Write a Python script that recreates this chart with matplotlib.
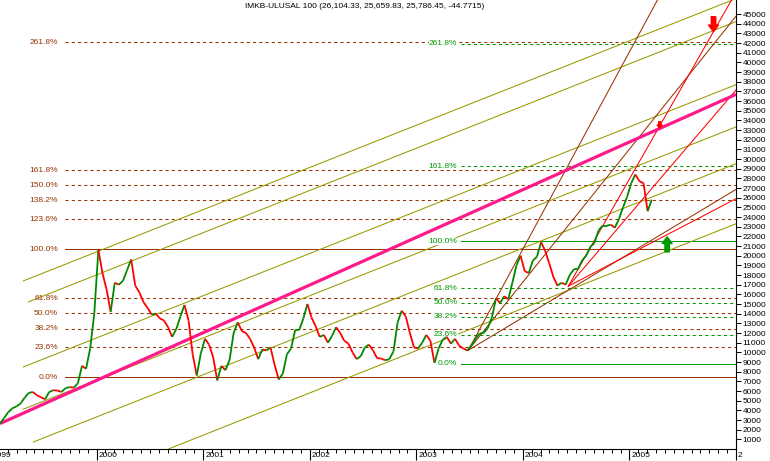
import numpy as np
import matplotlib
matplotlib.use("Agg")
import matplotlib.pyplot as plt
from matplotlib.collections import LineCollection
from matplotlib.transforms import blended_transform_factory, offset_copy

plt.rcParams['font.family'] = ['Liberation Sans Narrow', 'Liberation Sans', 'DejaVu Sans']

# ---------------- data ----------------
TITLE = "IMKB-ULUSAL 100 (26,104.33, 25,659.83, 25,786.45, -44.7715)"
START_YEAR = 1999.094          # date of first bar (fractional year)
PERIODS_PER_YEAR = 26          # two-week bars

closes = [
    2630, 3200, 3800, 4200, 4400, 4700, 5300, 5800, 5900, 5560,
    5350, 5150, 5900, 6080, 6050, 5900, 6300, 6400, 6350, 6800,
    8600, 8300, 10400, 14000, 20600, 18200, 16500, 14200, 17200, 17000,
    17400, 18500, 19600, 16900, 16200, 15200, 14600, 13900, 14000, 13500,
    13300, 12600, 11600, 12400, 13700, 14900, 13300, 9800, 7600, 9900,
    11400, 10800, 9500, 7100, 8600, 8150, 9200, 12000, 13100, 12200,
    12000, 11400, 10500, 9300, 10300, 10200, 10500, 8700, 7200, 7800,
    9800, 10400, 12300, 12300, 13500, 15000, 13600, 12700, 11600, 11800,
    11000, 11700, 12600, 12000, 11200, 10900, 10000, 9300, 9600, 10500,
    10800, 10200, 9400, 9360, 9180, 9300, 10100, 13100, 14300, 13700,
    12000, 10500, 10400, 11000, 11800, 11200, 8900, 10400, 11300, 11600,
    10900, 11400, 10700, 10400, 10200, 10700, 11400, 11950, 12000, 12500,
    13600, 15600, 15100, 15800, 15500, 17200, 19000, 20000, 18400, 18200,
    19500, 19900, 21400, 20500, 19200, 17800, 16900, 17200, 17000, 18000,
    18600, 18600, 19500, 20000, 20900, 21300, 22600, 23100, 23100, 23200,
    22900, 23800, 25000, 26100, 27500, 28400, 27700, 27500, 24600, 25786,
]

# Fibonacci retracement set 1 (2000 peak / 2001 low)
fib1_levels = [0.0, 23.6, 38.2, 50.0, 61.8, 100.0, 123.6, 138.2, 150.0, 161.8, 261.8]
fib1_low, fib1_high = 7400, 20650
fib1_start = 1999.704
fib1_label_x = 1999.639

# Fibonacci retracement set 2 (2003 low / 2004 peak)
fib2_levels = [0.0, 23.6, 38.2, 50.0, 61.8, 100.0, 161.8, 261.8]
fib2_low, fib2_high = 8840, 21470
fib2_start = 2003.423
fib2_label_x = 2003.385

# main support trendline (pink)
main_trend = ((1999.094, 2630), (2006.0, 36690))

# parallel channel lines (olive)
channel_lines = [
    ((1999.313, 17391), (2006.005, 46615)),
    ((1999.360, 15217), (2006.005, 44234)),
    ((1999.313, 8489), (2006.005, 37713)),
    ((1999.313, 4120), (2006.005, 33344)),
    ((1999.407, 725), (2006.005, 29535)),
    ((2000.674, 0), (2006.005, 23323)),
]

# fan from 2003 low (brown) and from 2004 low (red)
fan1_origin = (2003.488, 10217)
fan1_ends = [(2005.263, 46450), (2006.024, 45104), (2006.005, 26884)]
fan2_origin = (2004.427, 16843)
fan2_ends = [(2005.958, 46450), (2006.011, 37278), (2006.011, 25953)]

# arrows (tail -> tip)
arrows = [
    ((2005.354, 20393), (2005.354, 21946), '#009900', 8),
    ((2005.789, 44721), (2005.789, 43168), '#ff0000', 8),
    ((2005.284, 33851), (2005.284, 33168), '#ff0000', 4),
]

years = [1999, 2000, 2001, 2002, 2003, 2004, 2005, 2006]
year_labels = ["1999", "2000", "2001", "2002", "2003", "2004", "2005", "2"]
y_ticks = list(range(1000, 46000, 1000))

# ---------------- styling ----------------
BROWN = '#993300'
GREEN = '#009900'
OLIVE = '#999900'
PINK = '#ff1a8c'
RED = '#ff0000'
UPC = '#008800'

W, H = 770, 461
fig = plt.figure(figsize=(W / 100, H / 100), dpi=100)
ax = fig.add_axes([0, 12 / H, 736 / W, 449 / H])
ax.set_xlim(1999.094, 2006.0)
ax.set_ylim(0, 46450)

lw1 = 0.75
dash = (0, (3, 3))

# Fibonacci set 1
for lv in fib1_levels:
    val = fib1_low + (fib1_high - fib1_low) * lv / 100.0
    ls = '-' if lv in (0.0, 100.0) else dash
    ax.plot([fib1_start, 2006.0], [val, val], color=BROWN, lw=lw1, ls=ls, zorder=2)
    ax.text(fib1_label_x, val, f"{lv:.1f}%", color=BROWN, fontsize=6,
            ha='right', va='center', zorder=5)

# Fibonacci set 2
for lv in fib2_levels:
    val = fib2_low + (fib2_high - fib2_low) * lv / 100.0
    ls = '-' if lv in (0.0, 100.0) else dash
    ax.plot([fib2_start, 2006.0], [val, val], color=GREEN, lw=lw1, ls=ls, zorder=2)
    ax.text(fib2_label_x, val, f"{lv:.1f}%", color=GREEN, fontsize=6,
            ha='right', va='center', zorder=3.5,
            bbox=dict(facecolor='white', edgecolor='none', pad=0.3))

# channel lines
for (a, b) in channel_lines:
    ax.plot([a[0], b[0]], [a[1], b[1]], color=OLIVE, lw=lw1, zorder=3)

# fans
for e in fan1_ends:
    ax.plot([fan1_origin[0], e[0]], [fan1_origin[1], e[1]], color=BROWN, lw=lw1, zorder=3)
for e in fan2_ends:
    ax.plot([fan2_origin[0], e[0]], [fan2_origin[1], e[1]], color=RED, lw=lw1, zorder=3)

# main trend
ax.plot([main_trend[0][0], main_trend[1][0]], [main_trend[0][1], main_trend[1][1]],
        color=PINK, lw=2.3, zorder=4, solid_capstyle='butt')

# price
c = np.array(closes, dtype=float)
t = START_YEAR + np.arange(len(c)) / PERIODS_PER_YEAR
segs = [[(t[i - 1], c[i - 1]), (t[i], c[i])] for i in range(1, len(c))]
cols = [UPC if c[i] >= c[i - 1] else RED for i in range(1, len(c))]
ax.add_collection(LineCollection(segs, colors=cols, linewidths=1.3, zorder=6))

# arrows
for tail, tip, col, sc in arrows:
    ax.annotate('', xy=tip, xytext=tail,
                arrowprops=dict(arrowstyle='simple,head_length=0.6,head_width=0.9,tail_width=0.4',
                                color=col, mutation_scale=sc, shrinkA=0, shrinkB=0),
                zorder=7)

# axes styling
for s in ('top', 'left'):
    ax.spines[s].set_visible(False)
ax.spines['right'].set_linewidth(0.8)
ax.spines['bottom'].set_linewidth(0.8)

ax.yaxis.tick_right()
ax.set_yticks(y_ticks)
ax.set_yticklabels([str(v) for v in y_ticks])
ax.tick_params(axis='y', direction='out', length=3.6, width=0.7, pad=1, labelsize=6)

ax.set_xticks(years[1:])
ax.set_xticklabels([])
minor = [y + m / 12 for y in range(1999, 2006) for m in range(1, 12)]
ax.set_xticks([m for m in minor if 1999.094 < m < 2006.0], minor=True)
ax.tick_params(axis='x', which='major', direction='out', length=7.9, width=0.8)
ax.tick_params(axis='x', which='minor', direction='out', length=2.9, width=0.7)

tr = offset_copy(blended_transform_factory(ax.transData, ax.transAxes),
                 fig=fig, x=2, y=-3, units='dots')
for yr, lab in zip(years, year_labels):
    ax.text(yr, 0, lab, transform=tr, ha='left', va='top', fontsize=6, clip_on=False)

fig.text(365 / W, 1 - 7 / H, TITLE, ha='center', va='center', fontsize=6)

fig.savefig('out.png', dpi=100)
